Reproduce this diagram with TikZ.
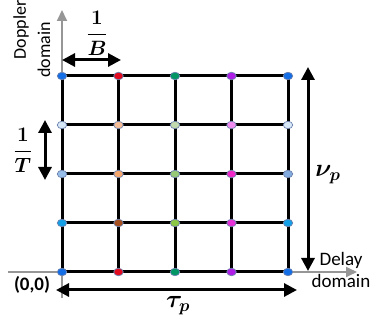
\documentclass[tikz,border=0pt]{standalone}
\usepackage{fontspec}
\usepackage{amsmath}
\usepackage{amssymb}
\usetikzlibrary{arrows.meta, shapes.geometric}
\newfontfamily\labelfont{Carlito}

\definecolor{dotrim}{RGB}{110,130,175}
\definecolor{blueA}{RGB}{20,110,230}
\definecolor{redA}{RGB}{225,10,30}
\definecolor{greenA}{RGB}{0,150,100}
\definecolor{purpleA}{RGB}{175,30,230}
\definecolor{paleblue}{RGB}{215,232,248}
\definecolor{peach}{RGB}{245,190,150}
\definecolor{palegreen}{RGB}{195,218,175}
\definecolor{lilac}{RGB}{240,140,240}
\definecolor{steelA}{RGB}{150,190,232}
\definecolor{apricot}{RGB}{245,168,110}
\definecolor{leaf}{RGB}{150,200,120}
\definecolor{hotpink}{RGB}{240,40,200}
\definecolor{steelB}{RGB}{130,170,220}
\definecolor{sky}{RGB}{20,160,230}
\definecolor{brownA}{RGB}{165,80,30}
\definecolor{lime}{RGB}{140,200,70}
\definecolor{magentaA}{RGB}{230,50,215}
\definecolor{axisgray}{RGB}{150,150,150}

\begin{document}
\begin{tikzpicture}[x=1pt, y=-1pt,
  gridline/.style={line width=3pt, black},
  axis/.style={line width=1.8pt, axisgray, -{Triangle[length=11pt,width=10pt]}},
  span/.style={line width=3pt, {Triangle[length=13pt,width=13pt]}-{Triangle[length=13pt,width=13pt]}},
  dot/.style={ellipse, draw=dotrim, line width=0.7pt, minimum width=9.5pt, minimum height=7.5pt, inner sep=0pt},
  txt/.style={font=\labelfont\fontsize{18}{22}\selectfont},
  mth/.style={font=\fontsize{19.5}{22}\selectfont}]

\useasboundingbox (0,0) rectangle (376,323);

%%%%%%%%%%%%%%%%%%%
% The grid

\foreach \i in {0,...,4} {
  \foreach \j in {0,...,4} {
    \coordinate (g\i\j) at (62+56.5*\i, 76+49*\j);
  }
}

\coordinate (xs) at (8,272);
\coordinate (xe) at (357,272);
\coordinate (ys) at (62,298);
\coordinate (ye) at (62,10);
\draw [axis] (xs) -- (xe);
\draw [axis] (ys) -- (ye);

\foreach \k in {0,...,4} {
  \draw [gridline] (g\k0) -- (g\k4);
  \draw [gridline] (g0\k) -- (g4\k);
}

%%%%%%%%%%%%%%%%%%%
% THE POINTS

\foreach \c [count=\i from 0] in {blueA,redA,greenA,purpleA,blueA}
  \node [dot, fill=\c] (d\i0) at (g\i0) {};
\foreach \c [count=\i from 0] in {paleblue,peach,palegreen,lilac,paleblue}
  \node [dot, fill=\c] (d\i1) at (g\i1) {};
\foreach \c [count=\i from 0] in {steelA,apricot,leaf,hotpink,steelB}
  \node [dot, fill=\c] (d\i2) at (g\i2) {};
\foreach \c [count=\i from 0] in {sky,brownA,lime,magentaA,sky}
  \node [dot, fill=\c] (d\i3) at (g\i3) {};
\foreach \c [count=\i from 0] in {blueA,redA,greenA,purpleA,blueA}
  \node [dot, fill=\c] (d\i4) at (g\i4) {};

%%%%%%%%%%%%%%%%%%%
% SPANS

\coordinate (bL) at (62,60);
\coordinate (bR) at (121,60);
\draw [span] (bL) -- (bR);

\coordinate (tU) at (45,120);
\coordinate (tD) at (45,180);
\draw [span] (tU) -- (tD);

\coordinate (nU) at (308,67);
\coordinate (nD) at (308,271);
\draw [span] (nU) -- (nD);

\coordinate (pL) at (56,290);
\coordinate (pR) at (297,290);
\draw [span] (pL) -- (pR);

%%%%%%%%%%%%%%%%%%%%%%%%%%%%

\node [mth] (oneB) at (97,33) {$\boldsymbol{\dfrac{1}{B}}$};
\node [mth] (oneT) at (23,150) {$\boldsymbol{\dfrac{1}{T}}$};
\node [font=\fontsize{27}{29}\selectfont] (nup) at (328,175) {$\boldsymbol{\nu_p}$};
\node [font=\fontsize{27}{29}\selectfont] (taup) at (178,306) {$\boldsymbol{\tau_p}$};
\node [font=\labelfont\bfseries\fontsize{19}{22}\selectfont] (orig) at (32,285) {(0,0)};
\node [txt, rotate=90] (dopA) at (21,30) {Doppler};
\node [txt, rotate=90] (dopB) at (44,50) {domain};
\node [font=\labelfont\fontsize{19}{22}\selectfont, align=center] (delay) at (341,270) {Delay\\domain};

\end{tikzpicture}
\end{document}
